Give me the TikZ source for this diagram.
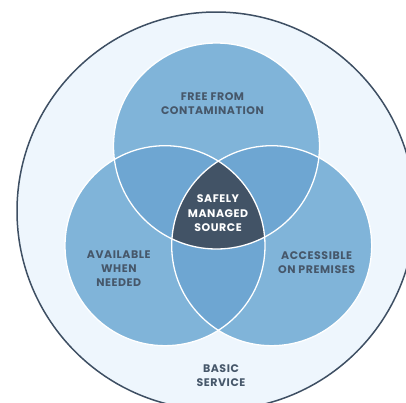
\documentclass[tikz,border=0pt]{standalone}
\usepackage{fontspec}
\newfontfamily\labfont[LetterSpace=5]{Poppins}
\definecolor{ringfill}{HTML}{EEF6FD}
\definecolor{ringline}{HTML}{3E4F63}
\definecolor{petal}{HTML}{80B4D9}
\definecolor{lens}{HTML}{6EA6D2}
\definecolor{core}{HTML}{425366}
\definecolor{labtext}{HTML}{46576A}
\tikzset{
  lab/.style={align=center, text=labtext, font=\labfont\bfseries\fontsize{11}{14.2}\selectfont, inner sep=0pt},
  corelab/.style={lab, text=white},
  rim/.style={draw=white, line width=1.3pt}
}
\begin{document}
\begin{tikzpicture}[x=1pt,y=-1pt]
  \useasboundingbox (0,0) rectangle (406,402);
  \begin{scope}
    \clip (0,0) rectangle (406,402);
    % outer "basic service" ring
    \coordinate (cO) at (216,211);
    \fill[ringfill] (cO) circle (199);
    \draw[ringline, line width=1.5pt] (cO) circle (199);
  \end{scope}
  % circle centres
  \coordinate (cT) at (216.5,146);
  \coordinate (cL) at (165,245.7);
  \coordinate (cR) at (271.7,245.7);
  % base discs
  \fill[petal] (cT) circle (103);
  \fill[petal] (cL) circle (100);
  \fill[petal] (cR) circle (100);
  % pairwise overlaps
  \begin{scope}
    \clip (cT) circle (103);
    \fill[lens] (cL) circle (100);
    \fill[lens] (cR) circle (100);
  \end{scope}
  \begin{scope}
    \clip (cL) circle (100);
    \fill[lens] (cR) circle (100);
  \end{scope}
  % triple overlap
  \begin{scope}
    \clip (cT) circle (103);
    \clip (cL) circle (100);
    \fill[core] (cR) circle (100);
  \end{scope}
  % white outlines
  \draw[rim] (cT) circle (103);
  \draw[rim] (cL) circle (100);
  \draw[rim] (cR) circle (100);
  % labels
  \node[lab] (free) at (212.5,103.5) {FREE FROM\\CONTAMINATION};
  \node[corelab] (safe) at (218,213.3) {SAFELY\\MANAGED\\SOURCE};
  \node[lab] (avail) at (118.8,268.7) {AVAILABLE\\WHEN\\NEEDED};
  \node[lab] (access) at (316.6,262.5) {ACCESSIBLE\\ON PREMISES};
  \node[lab] (basic) at (221,375.8) {BASIC\\SERVICE};
\end{tikzpicture}
\end{document}
